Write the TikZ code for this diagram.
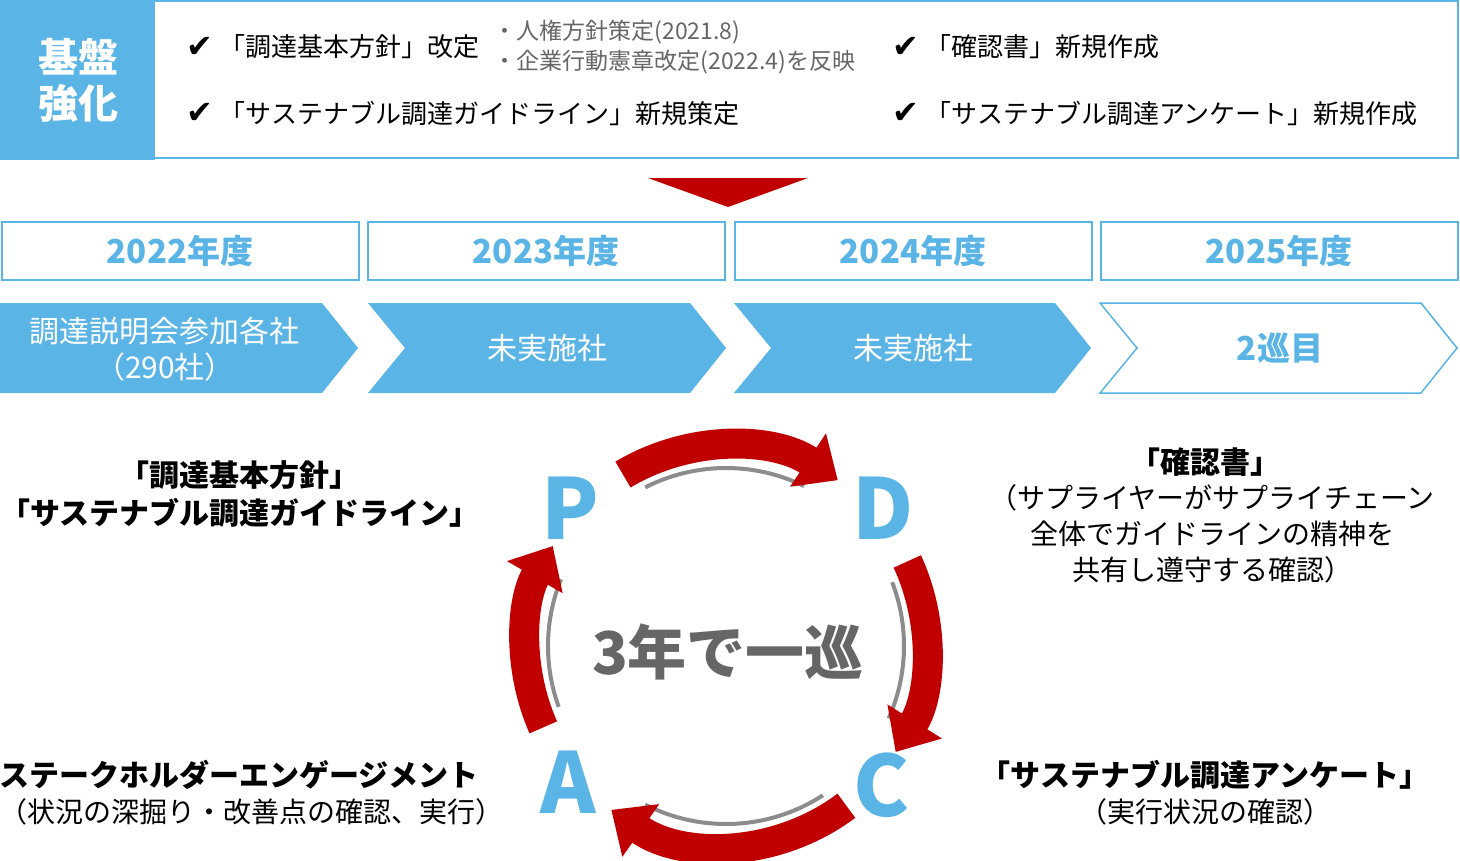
\documentclass[tikz,border=0pt]{standalone}
\usepackage{fontspec}
\setmainfont{Noto Sans CJK JP}
\newfontfamily\djvfont{DejaVu Sans}
\usetikzlibrary{arrows.meta}
\definecolor{bl}{HTML}{5AB4E6}
\definecolor{rd}{HTML}{C00000}
\definecolor{gr}{HTML}{666666}
\begin{document}
\begin{tikzpicture}[x=1pt,y=-1pt,
  fs/.style={font=\fontsize{#1}{#1}\selectfont},
  yr/.style={draw=bl,line width=2pt,fill=white},
  chk/.style={anchor=center,font=\djvfont\bfseries\fontsize{32}{32}\selectfont},
  cyc/.style={draw=rd,line width=30pt,-{Triangle[width=62pt,length=36pt]}},
  shd/.style={draw=gray!90,line width=4pt},
  pd/.style={text=bl,font=\bfseries\fontsize{84}{84}\selectfont}]
\useasboundingbox (0,0) rectangle (1460,860);
% top box
\draw[draw=bl,line width=2pt,fill=white] (1,1) rectangle (1458,158);
\fill[bl] (0,0) rectangle (155,160);
\node[text=white,align=center,font=\bfseries\fontsize{40}{46}\selectfont] (kb) at (78,80) {基盤\\強化};
\node[chk] (c1) at (200,47) {✔};
\node[anchor=west,fs=26] (t1) at (216,47) {「調達基本方針」改定};
\node[anchor=west,text=gr,fs=23] (s1) at (490,32) {・人権方針策定(2021.8)};
\node[anchor=west,text=gr,fs=23] (s2) at (490,62) {・企業行動憲章改定(2022.4)を反映};
\node[chk] (c2) at (200,113) {✔};
\node[anchor=west,fs=26] (t2) at (216,113) {「サステナブル調達ガイドライン」新規策定};
\node[chk] (c3) at (906,47) {✔};
\node[anchor=west,fs=26] (t3) at (922,47) {「確認書」新規作成};
\node[chk] (c4) at (906,113) {✔};
\node[anchor=west,fs=26] (t4) at (922,113) {「サステナブル調達アンケート」新規作成};
% red triangle
\fill[rd] (648,178) -- (808,178) -- (728,207) -- cycle;
% years
\foreach \x/\y [count=\i] in {2/2022,368/2023,735/2024,1101/2025}{
  \draw[yr] (\x,222) rectangle ++(357,58);
  \node[text=bl,font=\bfseries\fontsize{33}{33}\selectfont] (y\i) at (\x+178,251) {\y 年度};
}
% chevrons
\fill[bl] (0,303) -- (322,303) -- (358,348) -- (322,393) -- (0,393) -- cycle;
\fill[bl] (368,303) -- (690,303) -- (726,348) -- (690,393) -- (368,393) -- (405,348) -- cycle;
\fill[bl] (734,303) -- (1055,303) -- (1091,348) -- (1055,393) -- (734,393) -- (771,348) -- cycle;
\draw[bl,line width=1.5pt] (1100,303) -- (1421,303) -- (1457,348) -- (1421,393) -- (1100,393) -- (1137,348) -- cycle;
\node[text=white,align=center,font=\fontsize{30}{36}\selectfont] (h1) at (165,349) {調達説明会参加各社\\（290社）};
\node[text=white,fs=30] (h2) at (547,348) {未実施社};
\node[text=white,fs=30] (h3) at (913,348) {未実施社};
\node[text=bl,font=\bfseries\fontsize{33}{33}\selectfont] (h4) at (1280,348) {2巡目};
% cycle
\coordinate (O) at (726,646);
\foreach \a/\b in {-121/-56,-25/32,53/125,156/210}{
  \draw[shd] ([shift={(\a+4:178)}]O) arc[start angle=\a+4,end angle=\b-8,radius=178];
  \draw[cyc] ([shift={(\a:200)}]O) arc[start angle=\a,end angle=\b,radius=200];
}
\node[pd] (P) at (570,508) {P};
\node[pd] (D) at (883,508) {D};
\node[pd] (C) at (882,785) {C};
\node[pd] (A) at (568,782) {A};
\node[text=gr,font=\bfseries\fontsize{59}{59}\selectfont] (ctr) at (728,652) {3年で一巡};
% side labels
\node[font=\bfseries\fontsize{30}{38}\selectfont,align=center] (l1) at (240,494) {「調達基本方針」\\「サステナブル調達ガイドライン」};
\node[font=\bfseries\fontsize{30}{30}\selectfont] (r1) at (1205,462) {「確認書」};
\node[font=\fontsize{28}{36}\selectfont,align=center] (r2) at (1212,534) {（サプライヤーがサプライチェーン\\全体でガイドラインの精神を\\共有し遵守する確認）};
\node[anchor=west,font=\bfseries\fontsize{30}{30}\selectfont] (l2) at (-4,775) {ステークホルダーエンゲージメント};
\node[anchor=west,font=\fontsize{28}{28}\selectfont] (l3) at (-4,812) {（状況の深掘り・改善点の確認、実行）};
\node[font=\bfseries\fontsize{30}{30}\selectfont] (r3) at (1205,775) {「サステナブル調達アンケート」};
\node[font=\fontsize{28}{28}\selectfont] (r4) at (1205,812) {（実行状況の確認）};
\end{tikzpicture}
\end{document}
